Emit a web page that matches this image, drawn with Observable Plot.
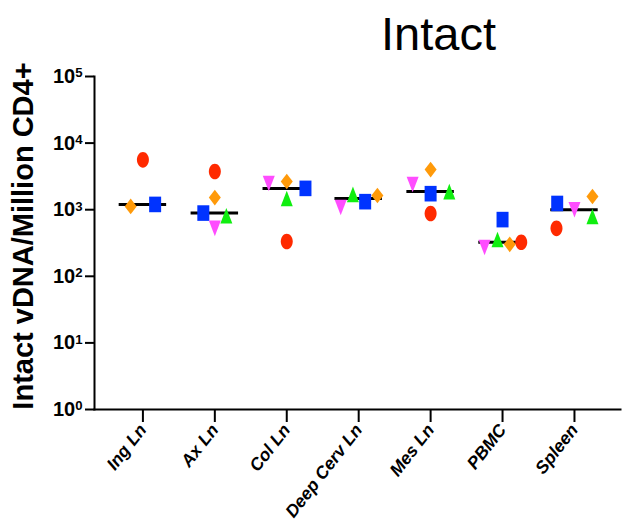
<!DOCTYPE html>
<html><head><meta charset="utf-8">
<script src="https://cdn.jsdelivr.net/npm/d3@7"></script>
<script src="https://cdn.jsdelivr.net/npm/@observablehq/plot@0.6"></script>
<style>body{margin:0;background:#fff;}</style>
</head><body><div id="chart"></div>
<script>
const title = "Intact";
const yLabel = "Intact vDNA/Million CD4+";
const categories = ["Ing Ln","Ax Ln","Col Ln","Deep Cerv Ln","Mes Ln","PBMC","Spleen"];
const yTicks = [1, 10, 100, 1000, 10000, 100000];

// values per animal (one marker style per animal), one per tissue
const redCircle      = [5600, 3740,  333, null,  875, 324,  525];
const orangeDiamond  = [1120, 1520, 2650, 1630, 4000, 302, 1580];
const blueSquare     = [1200,  890, 2090, 1320, 1740, 710, 1240];
const greenTriangle  = [null,  810, 1470, 1700, 1870, 357,  790];
const magentaTriDown = [null,  525, 2470, 1080, 2390, 270, 1000];

// horizontal scatter of each point inside its column (fraction of the column step)
const redJitter     = [0,     0,     0,    null,  0,     0.26, -0.25];
const orangeJitter  = [-0.17, 0,     0,    0.26,  0,     0.10,  0.25];
const blueJitter    = [0.17, -0.16,  0.26, 0.09,  0,     0,    -0.24];
const greenJitter   = [null,  0.16,  0,   -0.08,  0.26, -0.07,  0.25];
const magentaJitter = [null,  0,    -0.25,-0.25, -0.25, -0.25,  0];

// stretched marker shapes (taller than wide, as in the original)
const AR = 1.3;
function rad(size) { return Math.sqrt(size / Math.PI); }
const symEllipse = {draw(c, size) { const rx = rad(size), ry = rx * AR, k = 0.5523;
  c.moveTo(rx, 0); c.bezierCurveTo(rx, ry*k, rx*k, ry, 0, ry); c.bezierCurveTo(-rx*k, ry, -rx, ry*k, -rx, 0);
  c.bezierCurveTo(-rx, -ry*k, -rx*k, -ry, 0, -ry); c.bezierCurveTo(rx*k, -ry, rx, -ry*k, rx, 0); c.closePath(); }};
const symRect = {draw(c, size) { const rx = rad(size), ry = rx * AR; c.rect(-rx, -ry, 2*rx, 2*ry); }};
const symDiamond = {draw(c, size) { const rx = rad(size), ry = rx * AR;
  c.moveTo(0, -ry); c.lineTo(rx, 0); c.lineTo(0, ry); c.lineTo(-rx, 0); c.closePath(); }};
const symTriUp = {draw(c, size) { const rx = rad(size), ry = rx * AR;
  c.moveTo(0, -ry); c.lineTo(rx, ry); c.lineTo(-rx, ry); c.closePath(); }};
const symTriDown = {draw(c, size) { const rx = rad(size), ry = rx * AR;
  c.moveTo(0, ry); c.lineTo(rx, -ry); c.lineTo(-rx, -ry); c.closePath(); }};

const series = [
  {values: redCircle,      jitter: redJitter,     fill: "#ff2a00", symbol: symEllipse},
  {values: orangeDiamond,  jitter: orangeJitter,  fill: "#ff9a0a", symbol: symDiamond},
  {values: blueSquare,     jitter: blueJitter,    fill: "#0033ff", symbol: symRect},
  {values: greenTriangle,  jitter: greenJitter,   fill: "#10ee10", symbol: symTriUp},
  {values: magentaTriDown, jitter: magentaJitter, fill: "#ff4dff", symbol: symTriDown}
];
const tables = series.map(s => categories.map((c, i) => ({i, category: c, value: s.values[i], x: i + (s.jitter[i] ?? 0)}))
  .filter(d => d.value != null));
const allPoints = tables.flat();
const medians = categories.map((c, i) => ({i, median: d3.median(allPoints.filter(p => p.i === i), p => p.value)}));

const font = "Arial, 'Liberation Sans', sans-serif";
const chart = Plot.plot({
  width: 623, height: 531,
  marginLeft: 94, marginRight: 3, marginTop: 76, marginBottom: 122,
  style: {fontFamily: font, background: "white", color: "black"},
  x: {type: "linear", domain: [-0.673, 6.64], axis: null},
  y: {type: "log", domain: [1, 1e5], axis: null},
  marks: [
    Plot.axisY({ticks: yTicks, tickSize: 9, tickPadding: 3, tickFormat: () => "10",
      fontSize: 19, fontWeight: "bold", strokeWidth: 2, label: null}),
    Plot.axisX({ticks: categories.map((c, i) => i), tickFormat: i => categories[i], tickSize: 13, tickPadding: 4,
      tickRotate: -52, fontSize: 17.5, fontWeight: "bold", fontStyle: "italic", strokeWidth: 2, label: null}),
    Plot.frame({anchor: "left", strokeWidth: 2}),
    Plot.frame({anchor: "bottom", strokeWidth: 2}),
    Plot.text([yLabel], {text: d => d, frameAnchor: "left", textAnchor: "middle", rotate: -90, dx: -71, dy: -7,
      fontSize: 29, fontWeight: "bold"}),
    Plot.text([title], {text: d => d, frameAnchor: "top-left", dx: 344, dy: -27, lineAnchor: "bottom",
      textAnchor: "middle", fontSize: 47}),
    Plot.ruleY(medians, {y: "median", x1: d => d.i - 0.33, x2: d => d.i + 0.33, stroke: "black", strokeWidth: 3}),
    ...series.map((s, k) => Plot.dot(tables[k], {x: "x", y: "value", r: 6, symbol: s.symbol, fill: s.fill, stroke: "none"}))
  ]
});
document.getElementById("chart").appendChild(chart);

// superscript exponents on the y tick labels
d3.select(chart).selectAll('g[aria-label="y-axis tick label"] text').each(function(d, idx) {
  const t = d3.select(this);
  const v = yTicks[idx];
  t.attr("font-size", 20).attr("font-weight", "bold");
  t.append("tspan").attr("dy", "-0.42em").attr("font-size", "0.66em").text(String(Math.round(Math.log10(v))));
});
</script>
</body></html>
